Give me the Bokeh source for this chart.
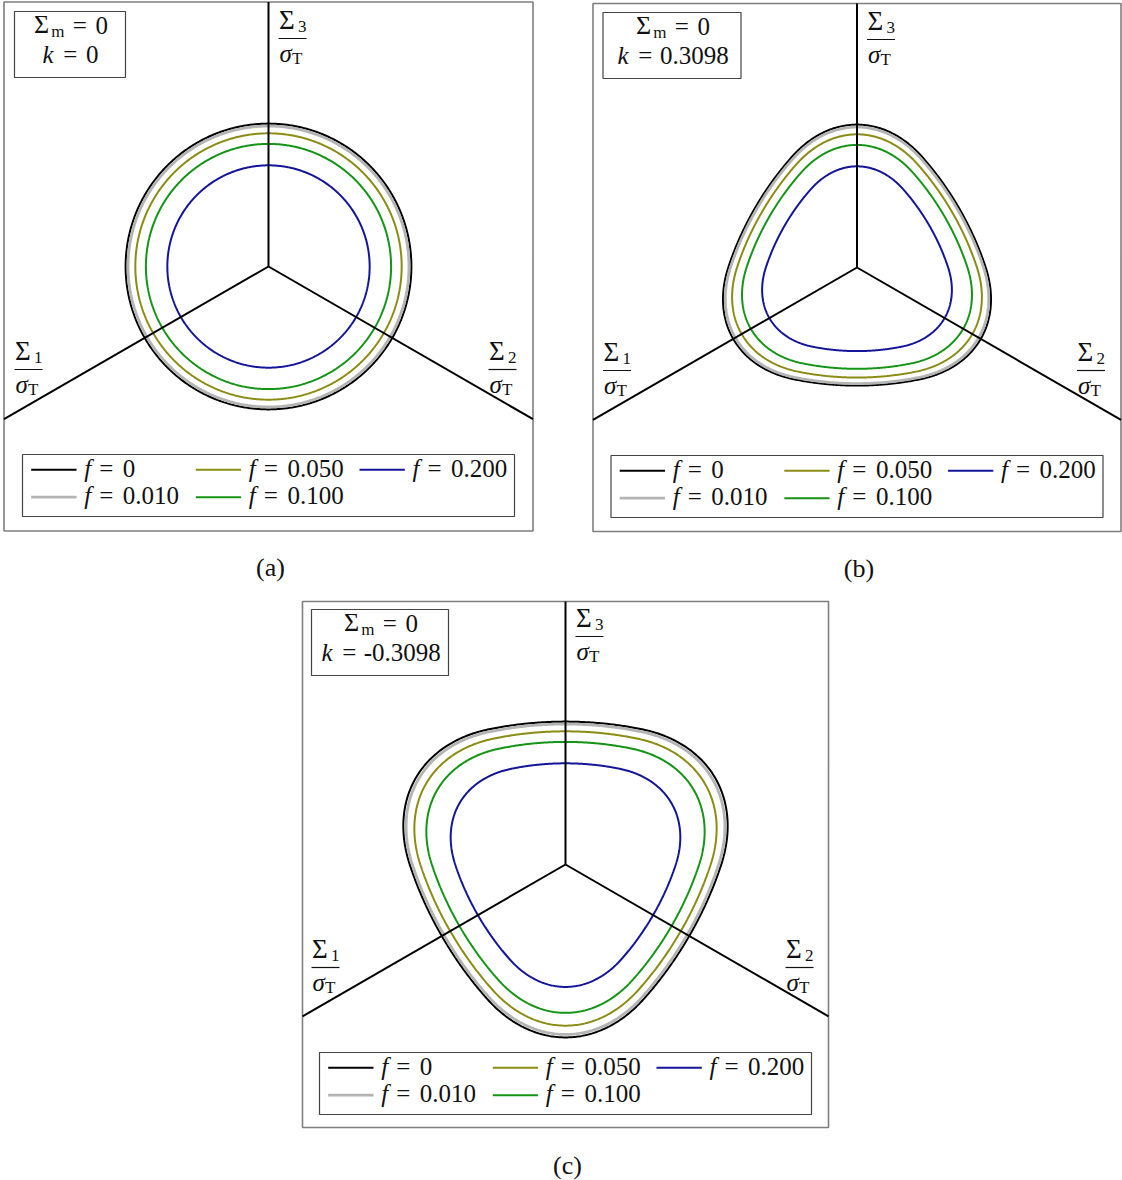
import numpy as np
from bokeh.plotting import figure
from bokeh.models import Range1d
from bokeh.layouts import column, row
from bokeh.core.properties import value
from bokeh.embed import file_html
from bokeh.resources import INLINE

# Porosity levels, their legend labels and the size of each locus relative to f = 0
f_levels = [0.0, 0.010, 0.050, 0.100, 0.200]
f_labels = ["0", "0.010", "0.050", "0.100", "0.200"]
locus_scale = [1.000, 0.983, 0.932, 0.858, 0.708]
curve_colors = ["#000000", "#b4b4b4", "#8c8c14", "#159515", "#15159b"]
curve_widths = [2.0, 2.8, 2.0, 2.0, 2.0]

# Strength-differential parameter k of each panel (mean stress fixed at zero)
k_values = [0.0, 0.3098, -0.3098]
k_labels = ["0", "0.3098", "-0.3098"]
panel_tags = ["(a)", "(b)", "(c)"]

SERIF = value("Liberation Serif")
PX = 175.0  # screen pixels per unit of Sigma/sigma_T in the deviatoric plane


def u(px):
    return px / PX


def cpb_locus(k, scale, n=721):
    """Isotropic CPB06 (a = 2) locus in the deviatoric plane, normalised by sigma_T."""
    th = np.linspace(0.0, 2.0 * np.pi, n)
    c = np.sqrt(2.0 / 3.0)
    s = [c * np.cos(th - np.deg2rad(a)) for a in (210.0, 330.0, 90.0)]
    F = sum((np.abs(si) - k * si) ** 2 for si in s)
    FT = (2.0 / 9.0) * (1 + k) ** 2 + (4.0 / 9.0) * (1 - k) ** 2
    r = scale * np.sqrt(FT / F)
    return r * np.cos(th), r * np.sin(th)


def txt(p, x, base, s, size=25, italic=False, align="left"):
    # positions are given by the baseline; the glyph is anchored at its middle
    y = base + 0.33 * size
    p.text(x=[u(x)], y=[u(y)], text=[s], text_font=SERIF, text_font_size=f"{size}px",
           text_font_style="italic" if italic else "normal", text_color="#111111",
           text_align=align, text_baseline="middle")


def number_width(s):
    return sum(6 if ch == "." else 8 if ch == "-" else 12 for ch in s)


def runs_line(p, runs, xc, base):
    total = sum(r[1] for r in runs)
    x = xc - total / 2.0
    for text, adv, size, italic, dy in runs:
        if text:
            txt(p, x + adv / 2.0, base + dy, text, size, italic, align="center")
        x += adv


def fraction(p, bx, by, idx):
    p.segment(x0=[u(bx)], y0=[u(by)], x1=[u(bx + 28)], y1=[u(by)], line_color="#111111", line_width=1.2)
    txt(p, bx + 0.5, by + 10.0, "Σ", 27)
    txt(p, bx + 19.5, by + 6.5, str(idx), 17)
    txt(p, bx + 1, by - 23.0, "σ", 25, italic=True)
    txt(p, bx + 13.5, by - 25.5, "T", 17)


def panel(i, width, height, cx, cy, half, ann_w):
    p = figure(width=width, height=height, output_backend="svg", toolbar_location=None,
               x_range=Range1d(u(-cx), u(width - cx)), y_range=Range1d(u(-(height - cy)), u(cy)),
               min_border=0, outline_line_color=None, x_axis_location=None, y_axis_location=None)
    p.grid.visible = False
    p.background_fill_color = "white"

    # frame of the panel
    p.quad(left=[u(-half)], right=[u(half)], top=[u(half)], bottom=[u(-half)],
           fill_color=None, line_color="#7f7f7f", line_width=1.6)

    # yield loci
    k = k_values[i]
    for j in range(len(f_levels)):
        x, y = cpb_locus(k, locus_scale[j])
        p.line(x, y, line_color=curve_colors[j], line_width=curve_widths[j])

    # principal stress axes
    t30 = np.tan(np.deg2rad(30))
    p.segment(x0=[0, 0, 0], y0=[0, 0, 0],
              x1=[0, u(-half), u(half)], y1=[u(half), u(-half * t30), u(-half * t30)],
              line_color="black", line_width=2)
    fraction(p, 10, 228, 3)
    fraction(p, -254, -103, 1)
    fraction(p, 220, -103, 2)

    # parameter box
    left, top, bot = -254, 255, 189
    p.quad(left=[u(left)], right=[u(left + ann_w)], top=[u(top)], bottom=[u(bot)],
           fill_color="white", line_color="#444444", line_width=1.2)
    xc = left + ann_w / 2.0
    runs_line(p, [("Σ", 18.5, 26, False, 0), ("m", 14, 17, False, -3.4), ("", 5, 0, False, 0),
                  ("=", 20, 25, False, 0), ("", 6, 0, False, 0), ("0", 12, 25, False, 0)], xc, 233)
    kl = k_labels[i]
    runs_line(p, [("k", 12.5, 25, True, 0), ("", 6, 0, False, 0), ("=", 20, 25, False, 0),
                  ("", 6, 0, False, 0), (kl, number_width(kl), 25, False, 0)], xc, 204)

    # legend
    p.quad(left=[u(-246)], right=[u(246)], top=[u(-188)], bottom=[u(-250)],
           fill_color="white", line_color="#444444", line_width=1.2)
    col_x = [-237.3, -72.7, 91.0]
    row_y = [-203.3, -230.7]
    for j in range(len(f_levels)):
        x0 = col_x[j // 2]
        y0 = row_y[j % 2]
        p.line([u(x0), u(x0 + 45.3)], [u(y0), u(y0)], line_color=curve_colors[j],
               line_width=curve_widths[j])
        txt(p, x0 + 56.5, y0 - 7, "f", 25, italic=True, align="center")
        txt(p, x0 + 75.0, y0 - 7, "=", 25, align="center")
        txt(p, x0 + 91.6, y0 - 7, f_labels[j], 25)

    # sub-figure tag
    txt(p, 2, -310, panel_tags[i], 26, align="center")
    return p


pa = panel(0, 561, 590, 268.0, 266.0, 264.5, 111)
pb = panel(1, 561, 590, 295.5, 267.0, 264.0, 138)
pc = panel(2, 1122, 590, 565.0, 274.0, 263.0, 137)

layout = column(row(pa, pb), pc)
open("out.html", "w").write(file_html(layout, INLINE))
